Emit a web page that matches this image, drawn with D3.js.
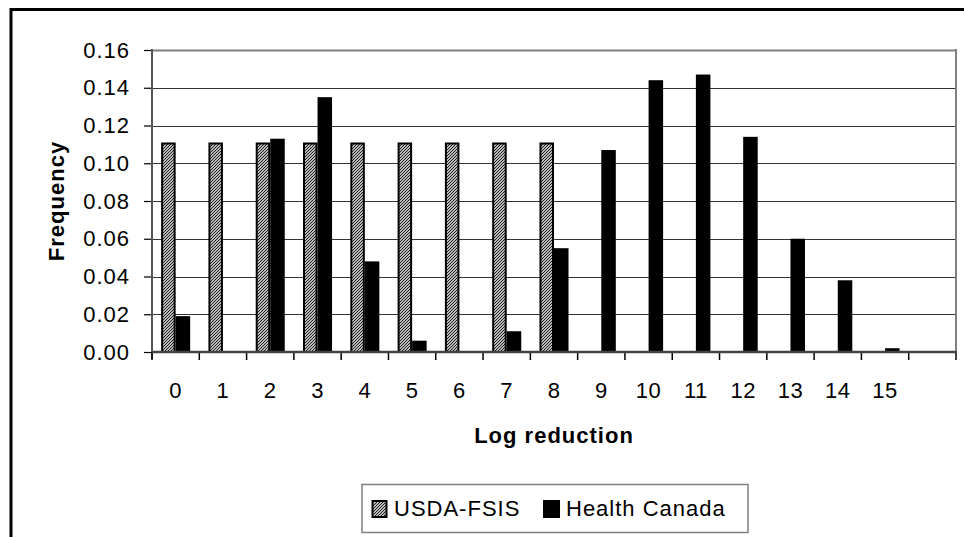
<!DOCTYPE html>
<html>
<head>
<meta charset="utf-8">
<script src="https://cdn.jsdelivr.net/npm/d3@7"></script>
<style>
  html, body { margin: 0; padding: 0; background: #fff; }
  svg { display: block; }
  text { font-family: "Liberation Sans", Arial, sans-serif; fill: #000; }
</style>
</head>
<body>
<svg id="chart" width="964" height="537"></svg>
<script>
// ---- data ----
const categories = ["0","1","2","3","4","5","6","7","8","9","10","11","12","13","14","15",""];
const usdaFsis = [0.111,0.111,0.111,0.111,0.111,0.111,0.111,0.111,0.111,null,null,null,null,null,null,null,null];
const healthCanada = [0.019,0,0.113,0.135,0.048,0.006,0,0.011,0.055,0.107,0.144,0.147,0.114,0.060,0.038,0.002,null];
const seriesNames = ["USDA-FSIS","Health Canada"];
const yTicks = [0,0.02,0.04,0.06,0.08,0.10,0.12,0.14,0.16];
const xTitle = "Log reduction";
const yTitle = "Frequency";

// ---- layout ----
const svg = d3.select("#chart");
const plot = {left: 152, right: 956, top: 50, bottom: 352};

const defs = svg.append("defs");
const pat = defs.append("pattern")
  .attr("id","hatch").attr("patternUnits","userSpaceOnUse")
  .attr("width",3).attr("height",3);
pat.append("rect").attr("width",3).attr("height",3).attr("fill","#fff");
pat.append("path").attr("d","M-1,1 l2,-2 M0,3 l3,-3 M2,4 l2,-2")
  .attr("stroke","#111").attr("stroke-width",1.1);

// outer chart border (cropped at right/bottom)
svg.append("rect").attr("x",11).attr("y",9.5).attr("width",1000).attr("height",600)
  .attr("fill","none").attr("stroke","#000").attr("stroke-width",3);

const x = d3.scaleBand().domain(categories.map((d,i)=>i)).range([plot.left, plot.right]).padding(0);
const y = d3.scaleLinear().domain([0,0.16]).range([plot.bottom, plot.top]);

const barW = x.bandwidth()*0.307;
const groupOff = (x.bandwidth() - 2*barW)/2;

// gridlines
svg.append("g").selectAll("line").data(yTicks.filter(d=>d>0)).join("line")
  .attr("x1",plot.left).attr("x2",plot.right)
  .attr("y1",d=>Math.round(y(d))+0.5).attr("y2",d=>Math.round(y(d))+0.5)
  .attr("stroke",d=> d===0.16 ? "#808080" : "#333").attr("stroke-width",d=> d===0.16 ? 2 : 1.2);

// right border of plot
svg.append("line").attr("x1",plot.right).attr("x2",plot.right)
  .attr("y1",plot.top-1).attr("y2",plot.bottom)
  .attr("stroke","#808080").attr("stroke-width",2);

// bars
const gBars = svg.append("g");
gBars.selectAll("rect.usda").data(usdaFsis.map((v,i)=>({v,i})).filter(d=>d.v!==null)).join("rect")
  .attr("class","usda")
  .attr("x",d=>x(d.i)+groupOff+1)
  .attr("y",d=>y(d.v)+1)
  .attr("width",barW-2)
  .attr("height",d=>y(0)-y(d.v)-1)
  .attr("fill","url(#hatch)").attr("stroke","#000").attr("stroke-width",2);

gBars.selectAll("rect.hc").data(healthCanada.map((v,i)=>({v,i})).filter(d=>d.v!==null && d.v>0)).join("rect")
  .attr("class","hc")
  .attr("x",d=>x(d.i)+groupOff+barW)
  .attr("y",d=>y(d.v))
  .attr("width",barW)
  .attr("height",d=>y(0)-y(d.v))
  .attr("fill","#000");

// y axis
const yAxis = d3.axisLeft(y).tickValues(yTicks).tickFormat(d3.format(".2f")).tickSize(8).tickPadding(12);
const gy = svg.append("g").attr("transform",`translate(${plot.left},0)`).call(yAxis);
gy.select(".domain").remove();
gy.selectAll(".tick line").attr("stroke","#000").attr("stroke-width",1.2);
gy.selectAll(".tick text").attr("font-size",22).attr("letter-spacing","1px")
  .attr("font-family","Liberation Sans, Arial, sans-serif").attr("dx","-2");
svg.append("line").attr("x1",plot.left).attr("x2",plot.left)
  .attr("y1",plot.top-1).attr("y2",plot.bottom+7)
  .attr("stroke","#555").attr("stroke-width",2);

// x axis (labels at band centers)
const xAxis = d3.axisBottom(x).tickFormat(i=>categories[i]).tickSize(0).tickPadding(30);
const gx = svg.append("g").attr("transform",`translate(0,${plot.bottom})`).call(xAxis);
gx.select(".domain").remove();
gx.selectAll(".tick text").attr("font-size",22).attr("letter-spacing","0.5px")
  .attr("font-family","Liberation Sans, Arial, sans-serif");
// boundary tick marks
const bounds = categories.map((d,i)=>x(i)).concat([plot.right]);
svg.append("g").selectAll("line").data(bounds).join("line")
  .attr("x1",d=>d).attr("x2",d=>d).attr("y1",plot.bottom).attr("y2",plot.bottom+8)
  .attr("stroke","#000").attr("stroke-width",1.5);
svg.append("line").attr("x1",plot.left).attr("x2",plot.right+1)
  .attr("y1",plot.bottom).attr("y2",plot.bottom)
  .attr("stroke","#444").attr("stroke-width",2.5);

// axis titles
svg.append("text").attr("x",(plot.left+plot.right)/2).attr("y",443)
  .attr("text-anchor","middle").attr("font-size",22).attr("font-weight","bold")
  .attr("letter-spacing","1px").text(xTitle);
svg.append("text").attr("transform",`translate(64,${(plot.top+plot.bottom)/2}) rotate(-90)`)
  .attr("text-anchor","middle").attr("font-size",22).attr("font-weight","bold")
  .attr("letter-spacing","1px").text(yTitle);

// legend
const lg = svg.append("g");
lg.append("rect").attr("x",362).attr("y",484.5).attr("width",386).attr("height",48)
  .attr("fill","#fff").attr("stroke","#808080").attr("stroke-width",1.5);
lg.append("rect").attr("x",372.5).attr("y",501).attr("width",14).attr("height",16)
  .attr("fill","url(#hatch)").attr("stroke","#000").attr("stroke-width",2);
lg.append("text").attr("x",394).attr("y",516).attr("font-size",22).attr("letter-spacing","1px").text(seriesNames[0]);
lg.append("rect").attr("x",543).attr("y",500).attr("width",17).attr("height",18).attr("fill","#000");
lg.append("text").attr("x",566).attr("y",516).attr("font-size",22).attr("letter-spacing","1px").text(seriesNames[1]);
</script>
</body>
</html>
